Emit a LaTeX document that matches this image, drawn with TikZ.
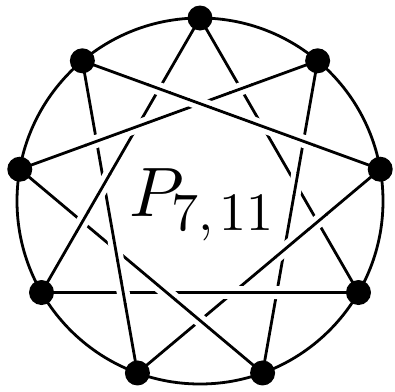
\documentclass[tikz,border=0pt]{standalone}
\usetikzlibrary{calc}
\newcommand\crossover[4]{%
  \coordinate (X) at (intersection of v#1--v#2 and v#3--v#4);
  \draw[white, line width=13pt] ($(X)!11pt!(v#1)$) -- ($(X)!11pt!(v#2)$);
  \draw[chord] ($(X)!12pt!(v#1)$) -- ($(X)!12pt!(v#2)$);
}
\begin{document}
\begin{tikzpicture}[x=1pt,y=-1pt,
  chord/.style={line width=2.8pt},
  rim/.style={line width=2.8pt},
  dot/.style={circle,fill=black,inner sep=0pt,minimum size=25pt}]
\useasboundingbox (0,0) rectangle (395,391);
\coordinate (O) at (200,201);
\foreach \i in {0,...,8}
  \coordinate (v\i) at ({200+183*cos(90-40*\i)},{201-183*sin(90-40*\i)});
\draw[rim] (O) circle[radius=183];
% three triangles
\draw[chord] (v0) -- (v3) -- (v6) -- cycle;
\draw[chord] (v1) -- (v4) -- (v7) -- cycle;
\draw[chord] (v2) -- (v5) -- (v8) -- cycle;
% crossings: over line (a,b), under line (c,d)
\crossover{8}{2}{0}{6}
\crossover{8}{2}{7}{1}
\crossover{7}{1}{0}{3}
\crossover{7}{1}{0}{6}
\crossover{8}{2}{0}{3}
\crossover{8}{2}{1}{4}
\crossover{1}{4}{0}{3}
\crossover{7}{1}{5}{8}
\crossover{0}{6}{5}{8}
\crossover{0}{6}{4}{7}
\crossover{5}{8}{4}{7}
\crossover{2}{5}{0}{3}
\crossover{2}{5}{1}{4}
\crossover{5}{8}{3}{6}
\crossover{4}{7}{3}{6}
\crossover{3}{6}{2}{5}
\crossover{3}{6}{1}{4}
\crossover{4}{7}{2}{5}
% vertices
\foreach \i in {0,...,8}
  \node[dot] (n\i) at (v\i) {};
\node (lblP) [anchor=base west, inner sep=0pt, scale=7.0] at (128,216) {$P$};
\node (lblS) [anchor=base west, inner sep=0pt, scale=5.4] at (170,230) {$7{,}\mkern2mu 11$};
\end{tikzpicture}
\end{document}
